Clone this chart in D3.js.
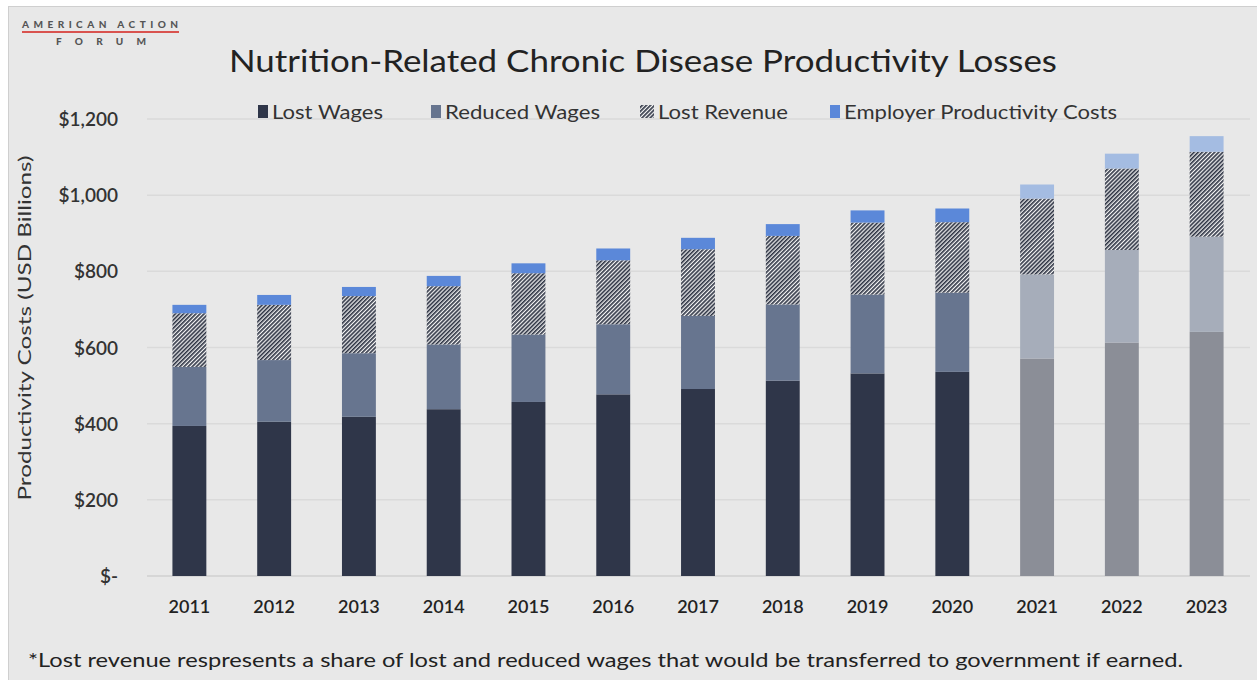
<!DOCTYPE html>
<html><head><meta charset="utf-8">
<script src="https://cdn.jsdelivr.net/npm/d3@7"></script>
<style>body{margin:0;background:#fff}svg{display:block}</style>
</head><body>
<svg id="chart" width="1257" height="680"></svg>
<script>
const years = ["2011","2012","2013","2014","2015","2016","2017","2018","2019","2020","2021","2022","2023"];
const lostWages = [394,405,418,438,457,477,491,513,532,536,571,613,641];
const reducedWages = [155,162,167,170,177,184,192,200,207,208,221,243,250];
const lostRevenue = [141,145,150,153,161,168,175,180,189,185,199,214,223];
const employerCosts = [22,26,24,27,26,31,30,31,32,36,37,39,41];
const projectedYears = ["2021","2022","2023"];
const yTicks = [0,200,400,600,800,1000,1200];
const seriesNames = ["Lost Wages","Reduced Wages","Lost Revenue","Employer Productivity Costs"];

const font = "Lato, 'Open Sans', sans-serif";
const svg = d3.select("#chart");
const W = 1257, H = 680;

const defs = svg.append("defs");
const pat = defs.append("pattern").attr("id","hatch").attr("patternUnits","userSpaceOnUse")
  .attr("width",2.9).attr("height",2.9).attr("patternTransform","rotate(45)");
pat.append("rect").attr("width",2.9).attr("height",2.9).attr("fill","#f4f4f4");
pat.append("line").attr("x1",0.8).attr("x2",0.8).attr("y1",0).attr("y2",2.9)
  .attr("stroke","#2f3545").attr("stroke-width",1.7);

// background panel
svg.append("rect").attr("x",0).attr("y",0).attr("width",W).attr("height",H).attr("fill","#ffffff");
svg.append("rect").attr("x",8.5).attr("y",6.5).attr("width",W-8).attr("height",H-6)
  .attr("fill","#e8e8e8").attr("stroke","#cfcfcf");

// logo
svg.append("text").attr("x",22).attr("y",28).attr("font-family",font).attr("font-size",10)
  .attr("font-weight",900).attr("fill","#555").attr("textLength",156).attr("lengthAdjust","spacing")
  .text("AMERICAN ACTION");
svg.append("line").attr("x1",22).attr("x2",179).attr("y1",32).attr("y2",32)
  .attr("stroke","#d9534f").attr("stroke-width",2);
svg.append("text").attr("x",56).attr("y",45).attr("font-family",font).attr("font-size",10)
  .attr("font-weight",900).attr("fill","#555").attr("textLength",90).attr("lengthAdjust","spacing")
  .text("FORUM");

// title
svg.append("text").attr("x",643).attr("y",72).attr("text-anchor","middle")
  .attr("font-family",font).attr("font-size",30).attr("fill","#222")
  .attr("textLength",828).attr("lengthAdjust","spacingAndGlyphs")
  .text("Nutrition-Related Chronic Disease Productivity Losses");

const x = d3.scaleBand().domain(years).range([147,1249]).paddingInner(0.6).paddingOuter(0.3);
const y = d3.scaleLinear().domain([0,1200]).range([576,119]);

// grid
svg.append("g").selectAll("line").data(yTicks).join("line")
  .attr("x1",147).attr("x2",1250).attr("y1",d=>y(d)).attr("y2",d=>y(d))
  .attr("stroke",d=>d===0?"#d0d0d0":"#dadada").attr("stroke-width",1.5);

// y axis labels
const yAxis = d3.axisLeft(y).tickValues(yTicks).tickSize(0).tickPadding(0)
  .tickFormat(d=> d===0 ? "$-" : "$" + d3.format(",")(d));
const ga = svg.append("g").attr("transform","translate(118,0)").call(yAxis);
ga.select(".domain").remove();
ga.selectAll("text").attr("font-family",font).attr("font-size",19).attr("font-weight",600)
  .attr("fill","#333").attr("dy","0.35em");

// y title
svg.append("text").attr("transform","translate(31,328) rotate(-90)").attr("text-anchor","middle")
  .attr("font-family",font).attr("font-size",17).attr("fill","#333")
  .attr("textLength",345).attr("lengthAdjust","spacingAndGlyphs")
  .text("Productivity  Costs (USD Billions)");

// x axis labels
const xAxis = d3.axisBottom(x).tickSize(0).tickPadding(0);
const gx = svg.append("g").attr("transform","translate(0,600)").call(xAxis);
gx.select(".domain").remove();
gx.selectAll("text").attr("font-family",font).attr("font-size",18).attr("font-weight",600)
  .attr("fill","#222").attr("dy","0.35em").attr("y",7);

// stacked bars
const rows = years.map((yr,i)=>({year:yr, lw:lostWages[i], rw:reducedWages[i], lr:lostRevenue[i], ec:employerCosts[i]}));
const stack = d3.stack().keys(["lw","rw","lr","ec"])(rows);
const colors = {lw:"#2f3649", rw:"#67758f", lr:"url(#hatch)", ec:"#5b88d9"};
const projColors = {lw:"#8b8e97", rw:"#a6adba", lr:"url(#hatch)", ec:"#a4bce2"};
stack.forEach(layer=>{
  svg.append("g").selectAll("rect").data(layer).join("rect")
    .attr("x",d=>x(d.data.year)).attr("width",x.bandwidth())
    .attr("y",d=>y(d[1])).attr("height",d=>y(d[0])-y(d[1]))
    .attr("fill",d=> projectedYears.includes(d.data.year) ? projColors[layer.key] : colors[layer.key]);
});

// legend
const legend = [
  {name:seriesNames[0], fill:"#2f3649", sx:258, tx:272, tw:111},
  {name:seriesNames[1], fill:"#67758f", sx:431, tx:445, tw:155},
  {name:seriesNames[2], fill:"url(#hatch)", sx:640, tx:658, tw:130},
  {name:seriesNames[3], fill:"#5b88d9", sx:830, tx:844, tw:273}
];
const lg = svg.append("g");
legend.forEach(l=>{
  lg.append("rect").attr("x",l.sx).attr("y",105).attr("width",l.name==="Lost Revenue"?14:10).attr("height",13)
    .attr("fill",l.fill);
  lg.append("text").attr("x",l.tx).attr("y",118.5).attr("font-family",font).attr("font-size",20)
    .attr("fill","#333").attr("textLength",l.tw).attr("lengthAdjust","spacingAndGlyphs").text(l.name);
});

// footnote
svg.append("text").attr("x",28).attr("y",667).attr("font-family",font).attr("font-size",20)
  .attr("fill","#222").attr("textLength",1155).attr("lengthAdjust","spacingAndGlyphs")
  .text("*Lost revenue respresents a share of lost and reduced wages that would be transferred to government if earned.");
</script>
</body></html>
